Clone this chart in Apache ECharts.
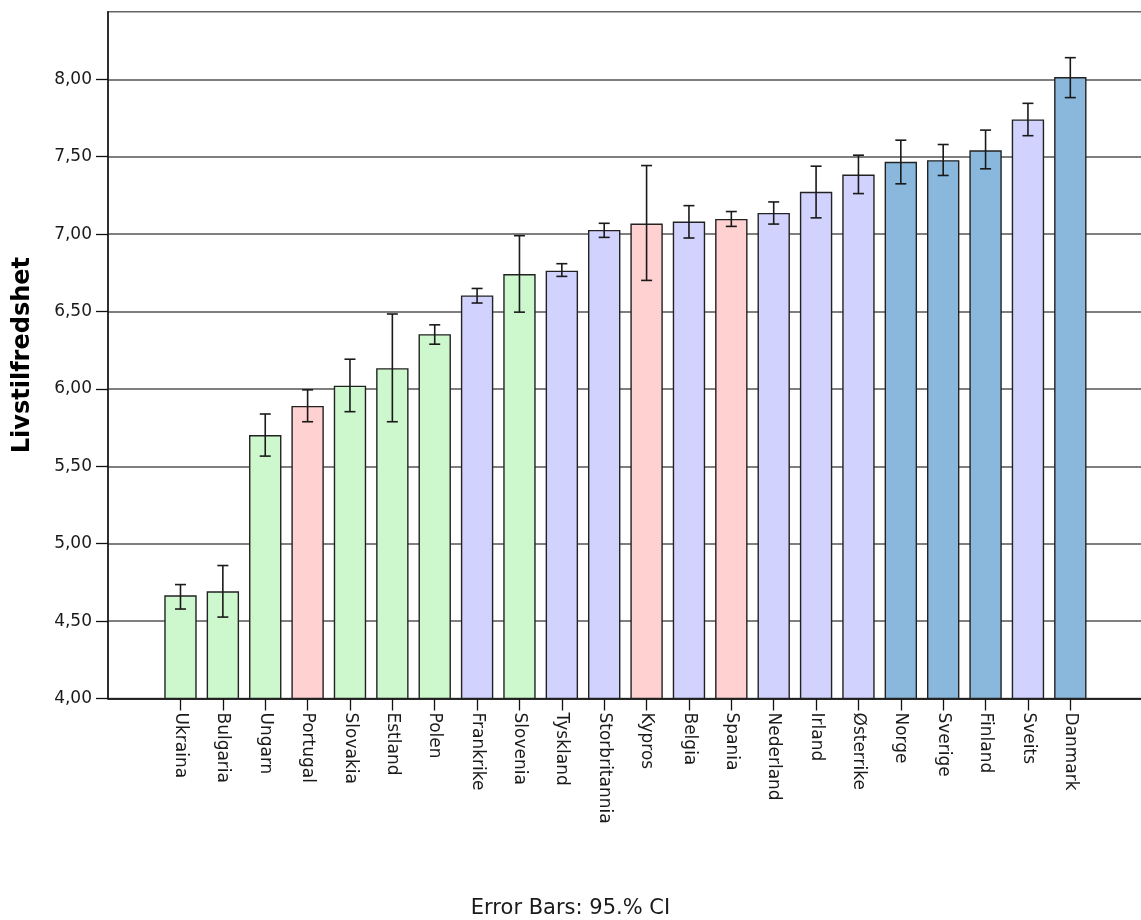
<!DOCTYPE html>
<html>
<head>
<meta charset="utf-8">
<script src="https://cdn.jsdelivr.net/npm/echarts@6/dist/echarts.min.js"></script>
<style>
html,body{margin:0;padding:0;background:#fff;}
#chart{width:1141px;height:920px;}
</style>
</head>
<body>
<div id="chart"></div>
<script>
const categories = ['Ukraina','Bulgaria','Ungarn','Portugal','Slovakia','Estland','Polen','Frankrike','Slovenia','Tyskland','Storbritannia','Kypros','Belgia','Spania','Nederland','Irland','Østerrike','Norge','Sverige','Finland','Sveits','Danmark'];
const means  = [4.667,4.693,5.702,5.890,6.021,6.134,6.354,6.604,6.742,6.764,7.027,7.068,7.081,7.098,7.137,7.273,7.385,7.467,7.478,7.542,7.741,8.015];
const ciLow  = [4.578,4.526,5.566,5.788,5.853,5.788,6.289,6.555,6.496,6.727,6.979,6.701,6.975,7.050,7.065,7.105,7.262,7.325,7.379,7.422,7.636,7.882];
const ciHigh = [4.736,4.859,5.838,5.994,6.192,6.484,6.414,6.649,6.990,6.809,7.070,7.443,7.184,7.146,7.208,7.439,7.510,7.607,7.579,7.672,7.845,8.140];
const groups = ['Øst','Øst','Øst','Sør','Øst','Øst','Øst','Vest','Øst','Vest','Vest','Sør','Vest','Sør','Vest','Vest','Vest','Nord','Nord','Nord','Vest','Nord'];
const yTicks = [4,4.5,5,5.5,6,6.5,7,7.5,8];
const yTitle = 'Livstilfredshet';
const footnote = 'Error Bars: 95.% CI';

const groupColors = {'Øst':'#cdf7cd','Sør':'#ffd1d1','Vest':'#d2d2ff','Nord':'#8ab8dc'};
const FONT = 'DejaVu Sans';
const Y_MIN = 4, Y_MAX = 8.437;
const TOP = 11.7, HEIGHT = 686.8;

const chart = echarts.init(document.getElementById('chart'), null, {renderer:'canvas'});
chart.setOption({
  animation:false,
  backgroundColor:'#ffffff',
  grid:[
    {left:108, top:TOP, width:1060, height:HEIGHT, show:true, borderColor:'#666', borderWidth:1.5, backgroundColor:'transparent', outerBoundsMode:'none', containLabel:false},
    {left:159.3, top:TOP, width:932.2, height:HEIGHT, outerBoundsMode:'none', containLabel:false}
  ],
  xAxis:[
    {type:'value', gridIndex:0, min:0, max:1, axisLine:{show:true, lineStyle:{color:'#111', width:1.5}}, axisTick:{show:false}, axisLabel:{show:false}, splitLine:{show:false}},
    {type:'category', gridIndex:1, data:categories, boundaryGap:true,
     axisLine:{show:false},
     axisTick:{show:true, alignWithLabel:true, length:12, lineStyle:{color:'#111', width:1.3}},
     axisLabel:{show:true, interval:0, rotate:-90, margin:14, fontFamily:FONT, fontSize:17, color:'#1a1a1a'},
     splitLine:{show:false}}
  ],
  yAxis:[
    {type:'value', gridIndex:0, min:Y_MIN, max:Y_MAX, interval:0.5,
     name:yTitle, nameLocation:'middle', nameGap:73,
     nameTextStyle:{fontFamily:FONT, fontWeight:'bold', fontSize:24, color:'#000'},
     axisLine:{show:true, lineStyle:{color:'#111', width:1.5}},
     axisTick:{show:true, length:12, lineStyle:{color:'#111', width:1.3}, customValues:yTicks},
     axisLabel:{show:true, margin:16, fontFamily:FONT, fontSize:17, color:'#1a1a1a', customValues:yTicks,
       formatter:function(v){return v.toFixed(2).replace('.', ',');}},
     splitLine:{show:true, lineStyle:{color:'#555', width:1.5}}},
    {type:'value', gridIndex:1, min:Y_MIN, max:Y_MAX, show:false, splitLine:{show:false}}
  ],
  series:[
    {type:'bar', xAxisIndex:1, yAxisIndex:1, barWidth:32.4, z:3,
     data:means.map(function(v,i){return {value:v, itemStyle:{color:groupColors[groups[i]]}};}),
     itemStyle:{borderColor:'#222', borderWidth:1.4}},
    {type:'custom', xAxisIndex:1, yAxisIndex:1, z:5,
     data:categories.map(function(c,i){return [i, ciLow[i], ciHigh[i]];}),
     renderItem:function(params, api){
       var x = api.value(0);
       var lo = api.coord([x, api.value(1)]);
       var hi = api.coord([x, api.value(2)]);
       var hw = 5.5;
       var st = {stroke:'#1a1a1a', lineWidth:1.6};
       return {type:'group', children:[
         {type:'line', shape:{x1:lo[0], y1:lo[1], x2:hi[0], y2:hi[1]}, style:st},
         {type:'line', shape:{x1:hi[0]-hw, y1:hi[1], x2:hi[0]+hw, y2:hi[1]}, style:st},
         {type:'line', shape:{x1:lo[0]-hw, y1:lo[1], x2:lo[0]+hw, y2:lo[1]}, style:st}
       ]};
     }}
  ],
  graphic:[
    {type:'text', left:'center', top:898, style:{text:footnote, fontFamily:FONT, fontSize:21, fill:'#1a1a1a'}}
  ]
});
</script>
</body>
</html>
